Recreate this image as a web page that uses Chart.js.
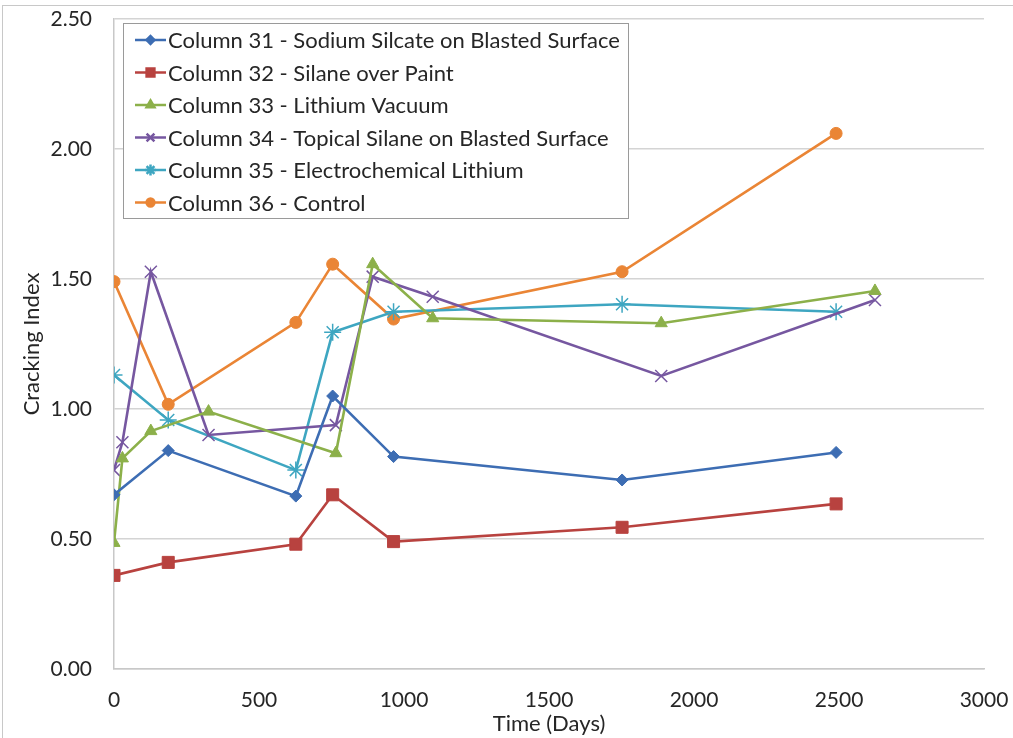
<!DOCTYPE html>
<html>
<head>
<meta charset="utf-8">
<script src="https://cdn.jsdelivr.net/npm/chart.js@4/dist/chart.umd.min.js"></script>
<style>
  html, body { margin: 0; padding: 0; background: #ffffff; }
  #wrap { width: 1013px; height: 738px; position: relative; }
</style>
</head>
<body>
<div id="wrap"><canvas id="c" width="1013" height="738"></canvas></div>
<script>
// Sampling days and cracking index readings per column
const daysA = [0, 187, 627, 754, 964, 1752, 2490];
const daysB = [0, 29, 127, 326, 765, 892, 1099, 1887, 2624];

const col31 = [0.67, 0.84, 0.665, 1.05, 0.817, 0.727, 0.833];
const col32 = [0.36, 0.41, 0.48, 0.67, 0.49, 0.545, 0.635];
const col33 = [0.485, 0.81, 0.915, 0.99, 0.83, 1.557, 1.349, 1.33, 1.454];
const col34 = [0.765, 0.872, 1.528, 0.9, 0.938, 1.509, 1.432, 1.127, 1.419];
const col35 = [1.131, 0.958, 0.765, 1.295, 1.374, 1.403, 1.374];
const col36 = [1.49, 1.018, 1.333, 1.557, 1.346, 1.528, 2.06];

const seriesLabels = [
  'Column 31 - Sodium Silcate on Blasted Surface',
  'Column 32 - Silane over Paint',
  'Column 33 - Lithium Vacuum',
  'Column 34 - Topical Silane on Blasted Surface',
  'Column 35 - Electrochemical Lithium',
  'Column 36 - Control'
];

const xTicks = [0, 500, 1000, 1500, 2000, 2500, 3000];
const yTicks = [0, 0.5, 1.0, 1.5, 2.0, 2.5];

const FONT = 'Lato, "Open Sans", sans-serif';
const TEXT = '#262626';

function pts(xs, ys) { return xs.map((x, i) => ({ x: x, y: ys[i] })); }

function series(label, xs, ys, color, style, radius, bw) {
  return {
    label: label,
    data: pts(xs, ys),
    borderColor: color,
    backgroundColor: color,
    pointBackgroundColor: color,
    pointBorderColor: color,
    pointStyle: style,
    pointRadius: radius,
    pointHoverRadius: radius,
    pointBorderWidth: bw,
    borderWidth: 2.6,
    tension: 0,
    fill: false
  };
}

const datasets = [
  series(seriesLabels[0], daysA, col31, '#3d6db3', 'rectRot', 6, 1),
  series(seriesLabels[1], daysA, col32, '#b8423f', 'rect', 8.5, 1),
  series(seriesLabels[2], daysB, col33, '#8cb04a', 'triangle', 7, 1),
  series(seriesLabels[3], daysB, col34, '#7657a0', 'crossRot', 8.5, 1.5),
  series(seriesLabels[4], daysA, col35, '#3ea6c1', 'star', 8.5, 1.5),
  series(seriesLabels[5], daysA, col36, '#ea8535', 'circle', 6, 1)
];

// Frame around the whole figure
const framePlugin = {
  id: 'frame',
  beforeDraw(chart) {
    const ctx = chart.ctx;
    ctx.save();
    ctx.fillStyle = '#ffffff';
    ctx.fillRect(0, 0, chart.width, chart.height);
    ctx.strokeStyle = '#c8c8c8';
    ctx.lineWidth = 1;
    ctx.strokeRect(2.5, 5.5, chart.width + 10, chart.height + 10);
    ctx.restore();
  }
};

// Boxed legend drawn inside the plot area
const boxLegend = {
  id: 'boxLegend',
  afterDraw(chart) {
    const ctx = chart.ctx;
    const bx = 123.5, by = 23.5, bw = 505, bh = 195;
    ctx.save();
    ctx.fillStyle = '#ffffff';
    ctx.fillRect(bx, by, bw, bh);
    ctx.strokeStyle = '#9a9a9a';
    ctx.lineWidth = 1;
    ctx.strokeRect(bx, by, bw, bh);
    ctx.font = '22px ' + FONT;
    ctx.textBaseline = 'middle';
    ctx.textAlign = 'left';
    chart.data.datasets.forEach((ds, i) => {
      const cy = 40 + i * 32.5;
      ctx.strokeStyle = ds.borderColor;
      ctx.fillStyle = ds.backgroundColor;
      ctx.lineWidth = 2.5;
      ctx.beginPath();
      ctx.moveTo(135, cy);
      ctx.lineTo(166, cy);
      ctx.stroke();
      Chart.helpers.drawPoint(ctx, {
        pointStyle: ds.pointStyle,
        radius: ds.pointRadius * 0.65,
        borderWidth: ds.pointBorderWidth
      }, 150.5, cy);
      ctx.fillStyle = TEXT;
      ctx.fillText(ds.label, 168, cy + 1);
    });
    ctx.restore();
  }
};

new Chart(document.getElementById('c'), {
  type: 'line',
  data: { datasets: datasets },
  plugins: [framePlugin, boxLegend],
  options: {
    responsive: false,
    animation: false,
    events: [],
    layout: { padding: { left: 0, right: 29, top: 19, bottom: 0 } },
    plugins: {
      legend: { display: false },
      tooltip: { enabled: false }
    },
    scales: {
      x: {
        type: 'linear',
        min: 0,
        max: 3000,
        afterBuildTicks(scale) { scale.ticks = xTicks.map(v => ({ value: v })); },
        afterFit(scale) { scale.height = 69; scale.paddingLeft = 0; scale.paddingRight = 0; },
        grid: { display: false, drawTicks: false },
        border: { display: true, color: '#c8c8c8', width: 1.5 },
        ticks: {
          padding: 19,
          color: TEXT,
          font: { family: FONT, size: 21 },
          maxRotation: 0,
          callback: v => String(v)
        },
        title: {
          display: true,
          text: 'Time (Days)',
          color: TEXT,
          font: { family: FONT, size: 22 },
          padding: { top: 0, bottom: 1 }
        }
      },
      y: {
        min: 0,
        max: 2.5,
        afterBuildTicks(scale) { scale.ticks = yTicks.map(v => ({ value: v })); },
        afterFit(scale) { scale.width = 114; scale.paddingTop = 0; scale.paddingBottom = 0; },
        grid: { color: '#d4d4d4', lineWidth: 1.5, drawTicks: false },
        border: { display: true, color: '#c8c8c8', width: 1.5 },
        ticks: {
          padding: 22,
          color: TEXT,
          font: { family: FONT, size: 21 },
          callback: v => Number(v).toFixed(2)
        },
        title: {
          display: true,
          text: 'Cracking Index',
          color: TEXT,
          font: { family: FONT, size: 22 },
          padding: { top: 19, bottom: 0 }
        }
      }
    }
  }
});
</script>
</body>
</html>
